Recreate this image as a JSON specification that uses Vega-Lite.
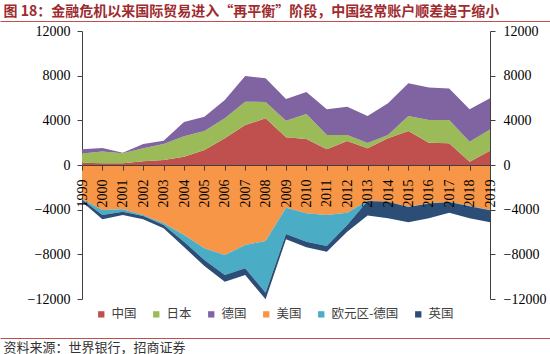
{
  "$schema": "https://vega.github.io/schema/vega-lite/v6.json",
  "width": 550,
  "height": 354,
  "autosize": {"type": "none"},
  "padding": 0,
  "background": "white",
  "config": {"view": {"stroke": null}, "font": "Noto Sans CJK SC"},
  "datasets": {
    "ca": [
      {"year": 1999, "中国": 200, "日本": 840, "德国": 360, "美国": -3070, "欧元区-德国": -30, "英国": -190},
      {"year": 2000, "中国": 150, "日本": 1050, "德国": 320, "美国": -4030, "欧元区-德国": -450, "英国": -380},
      {"year": 2001, "中国": 150, "日本": 900, "德国": 50, "美国": -3970, "欧元区-德国": -210, "英国": -300},
      {"year": 2002, "中国": 330, "日本": 1160, "德国": 390, "美国": -4480, "欧元区-德国": -90, "英国": -290},
      {"year": 2003, "中国": 450, "日本": 1430, "德国": 300, "美国": -5220, "欧元区-德国": -150, "英国": -300},
      {"year": 2004, "中国": 740, "日本": 1840, "德国": 1270, "美国": -6270, "欧元区-德国": -600, "英国": -480},
      {"year": 2005, "中国": 1340, "日本": 1700, "德国": 1290, "美国": -7460, "欧元区-德国": -1050, "英国": -530},
      {"year": 2006, "中国": 2390, "日本": 1790, "德国": 1640, "美国": -8060, "欧元区-德国": -1790, "英国": -600},
      {"year": 2007, "中国": 3580, "日本": 2090, "德国": 2300, "美国": -7160, "欧元区-德国": -2090, "英国": -600},
      {"year": 2008, "中国": 4180, "日本": 1460, "德国": 2120, "美国": -6800, "欧元区-德国": -4630, "英国": -600},
      {"year": 2009, "中国": 2480, "日本": 1490, "德国": 1940, "美国": -3820, "欧元区-德国": -2360, "英国": -470},
      {"year": 2010, "中国": 2330, "日本": 2240, "德国": 1970, "美国": -4330, "欧元区-德国": -2540, "英国": -490},
      {"year": 2011, "中国": 1400, "日本": 1290, "德国": 2300, "美国": -4480, "欧元区-德国": -2770, "英国": -510},
      {"year": 2012, "中国": 2150, "日本": 540, "德国": 2530, "美国": -4270, "欧元区-德国": -1100, "英国": -600},
      {"year": 2013, "中国": 1490, "日本": 480, "德国": 2420, "美国": -3200, "欧元区-德国": -20, "英国": -1300},
      {"year": 2014, "中国": 2390, "日本": 300, "德国": 2830, "美国": -3280, "欧元区-德国": -20, "英国": -1470},
      {"year": 2015, "中国": 3040, "日本": 1350, "德国": 2920, "美国": -3730, "欧元区-德国": -20, "英国": -1380},
      {"year": 2016, "中国": 2000, "日本": 2030, "德国": 2900, "美国": -3430, "欧元区-德国": -20, "英国": -1320},
      {"year": 2017, "中国": 1940, "日本": 2090, "德国": 2810, "美国": -3280, "欧元区-德国": -30, "英国": -960},
      {"year": 2018, "中国": 300, "日本": 1790, "德国": 2900, "美国": -3640, "欧元区-德国": -50, "英国": -1080},
      {"year": 2019, "中国": 1280, "日本": 1910, "德国": 2780, "美国": -4030, "欧元区-德国": -20, "英国": -1080}
    ]
  },
  "layer": [
    {
      "data": {"name": "ca"},
      "transform": [
        {"fold": ["中国", "日本", "德国", "美国", "欧元区-德国", "英国"], "as": ["series", "value"]},
        {"calculate": "indexof(['中国','日本','德国','美国','欧元区-德国','英国'], datum.series)", "as": "k"}
      ],
      "mark": {"type": "area", "interpolate": "linear"},
      "encoding": {
        "x": {
          "field": "year", "type": "quantitative",
          "scale": {"domain": [1999, 2019], "range": [82, 490], "nice": false, "zero": false},
          "axis": {
            "orient": "bottom", "offset": -189, "zindex": 1,
            "values": [1999, 2000, 2001, 2002, 2003, 2004, 2005, 2006, 2007, 2008, 2009, 2010, 2011, 2012, 2013, 2014, 2015, 2016, 2017, 2018, 2019],
            "format": "d", "labelAngle": 270, "labelFont": "Liberation Serif", "labelFontSize": 14,
            "labelColor": "#000000", "labelPadding": 9, "tickSize": 5, "tickColor": "#404040",
            "domainColor": "#404040", "grid": false, "title": null,
            "labelOverlap": false, "labelBound": false, "labelFlush": false
          }
        },
        "y": {
          "field": "value", "type": "quantitative", "stack": "zero",
          "scale": {"domain": [-12000, 12000], "range": [299, 31], "nice": false},
          "axis": {
            "orient": "left", "offset": -82, "values": [-12000, -8000, -4000, 0, 4000, 8000, 12000], "format": "d",
            "labelFont": "Liberation Serif", "labelFontSize": 14, "labelColor": "#000000",
            "tickSize": 5, "tickColor": "#404040", "domainColor": "#404040", "labelPadding": 7,
            "grid": false,
            "title": "图 18：金融危机以来国际贸易进入“再平衡”阶段，中国经常账户顺差趋于缩小",
            "titleX": -79, "titleY": 11, "titleAngle": 0, "titleAlign": "left", "titleBaseline": "middle",
            "titleFont": "Noto Sans CJK SC", "titleFontSize": 14, "titleFontWeight": "bold", "titleColor": "#9E2B2E"
          }
        },
        "color": {
          "field": "series", "type": "nominal",
          "scale": {
            "domain": ["中国", "日本", "德国", "美国", "欧元区-德国", "英国"],
            "range": ["#C0504D", "#9BBB59", "#8064A2", "#F79646", "#4BACC6", "#2C4D75"]
          },
          "legend": {
            "orient": "none", "legendX": 95, "legendY": 308, "direction": "horizontal", "title": null,
            "symbolType": "square", "symbolSize": 40, "symbolStrokeWidth": 0,
            "labelFont": "Noto Sans CJK SC", "labelFontSize": 12.5, "labelColor": "#404040",
            "columnPadding": 13, "labelOffset": 4
          }
        },
        "order": {"field": "k", "type": "quantitative", "sort": "ascending"}
      }
    },
    {
      "mark": {"type": "text", "font": "Noto Sans CJK SC", "fontSize": 17, "color": "#404040", "baseline": "middle"},
      "encoding": {
        "x": {"datum": 2008.75, "type": "quantitative", "scale": {"domain": [1999, 2019], "range": [82, 490], "nice": false, "zero": false}, "axis": null},
        "y": {
          "datum": 10746, "type": "quantitative",
          "scale": {"domain": [-12000, 12000], "range": [299, 31], "nice": false},
          "axis": {
            "orient": "right", "offset": -60, "values": [-12000, -8000, -4000, 0, 4000, 8000, 12000], "format": "d",
            "labelFont": "Liberation Serif", "labelFontSize": 14, "labelColor": "#000000",
            "tickSize": 5, "tickColor": "#404040", "domainColor": "#404040", "labelPadding": 8,
            "grid": false,
            "title": "资料来源：世界银行，招商证券", "titleX": -487, "titleY": 347,
            "titleAlign": "left", "titleBaseline": "middle", "titleAngle": 0,
            "titleFont": "Noto Sans CJK SC", "titleFontSize": 13, "titleFontWeight": "normal", "titleColor": "#333333"
          }
        },
        "text": {"value": "经常账户差额（亿现价美元）"}
      }
    },
    {
      "mark": {"type": "text"},
      "encoding": {
        "x": {
          "datum": 0.5, "type": "quantitative",
          "scale": {"domain": [0, 1], "range": [0, 550], "nice": false, "zero": false},
          "axis": {
            "orient": "top", "offset": -21, "domain": true, "domainColor": "#C0504D", "domainWidth": 1.2,
            "ticks": false, "labels": false, "grid": false, "title": null
          }
        },
        "text": {"value": ""}
      }
    },
    {
      "mark": {"type": "text"},
      "encoding": {
        "x": {
          "datum": 0.5, "type": "quantitative",
          "scale": {"domain": [0, 1], "range": [0, 550], "nice": false, "zero": false},
          "axis": {
            "orient": "bottom", "offset": -16, "domain": true, "domainColor": "#C0504D", "domainWidth": 1.2,
            "ticks": false, "labels": false, "grid": false, "title": null
          }
        },
        "text": {"value": ""}
      }
    }
  ],
  "resolve": {"axis": {"x": "independent", "y": "independent"}, "scale": {"x": "independent", "y": "independent"}}
}
